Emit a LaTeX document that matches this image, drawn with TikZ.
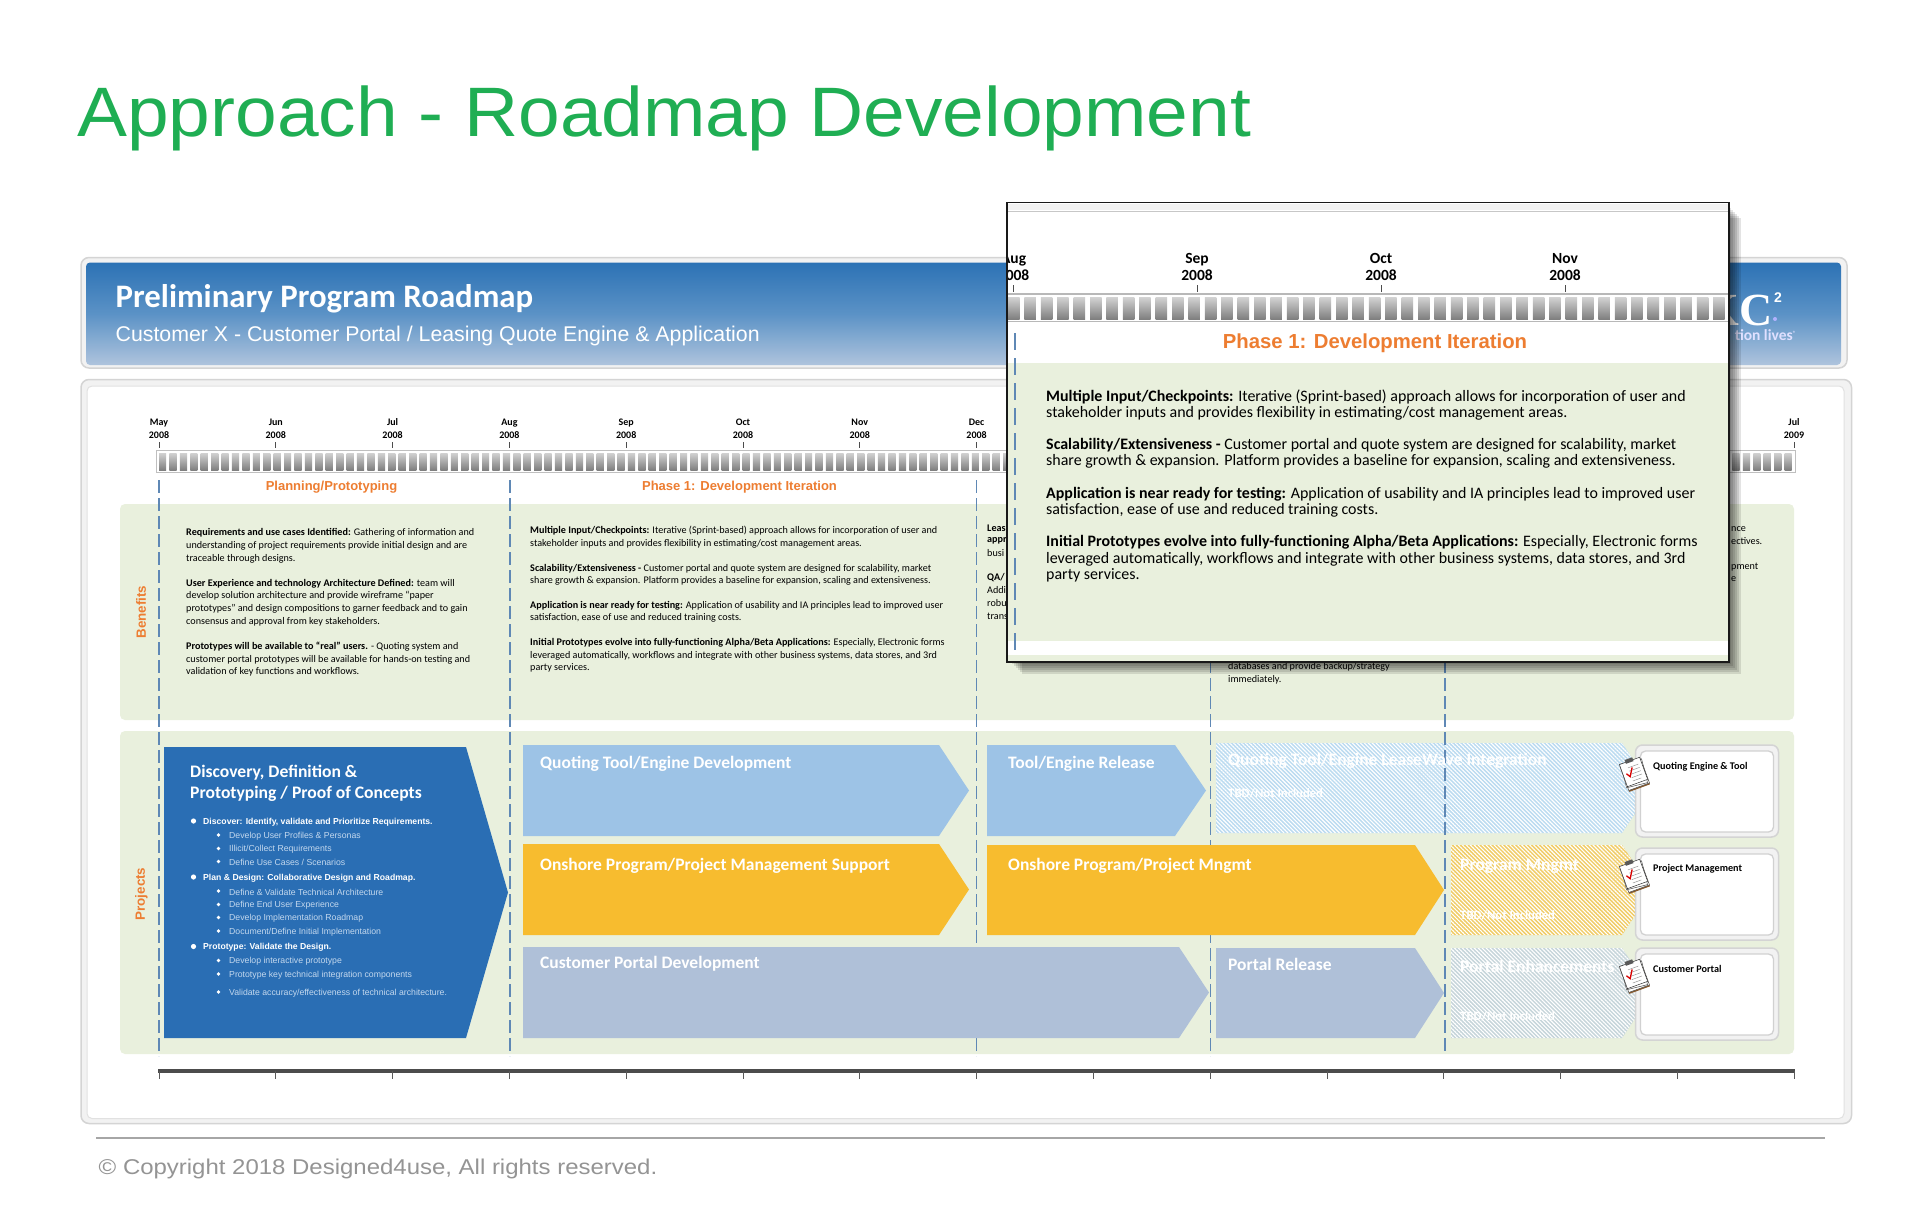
\documentclass[tikz,border=0pt]{standalone}
\usepackage{fontspec}
\setmainfont{Carlito}
\newfontfamily\arfont{Liberation Sans}
\newfontfamily\serfont{Liberation Serif}
\newfontfamily\titlefont[FakeStretch=1.07]{Liberation Sans}
\newfontfamily\copyfont[FakeStretch=1.12]{Liberation Sans}
\usetikzlibrary{patterns.meta,calc}
\definecolor{titlegreen}{HTML}{1FAE53}
\definecolor{panelgreen}{HTML}{E9F0DD}
\definecolor{phaseorange}{HTML}{ED7D31}
\definecolor{dashblue}{HTML}{5F88B5}
\definecolor{framegray}{HTML}{D4D4D4}
\definecolor{bigblue}{HTML}{2A6EB4}
\definecolor{toolblue}{HTML}{9DC3E6}
\definecolor{mgmtyellow}{HTML}{F7BC2F}
\definecolor{portalblue}{HTML}{AFC0D8}
\definecolor{hatchblue}{HTML}{BBDBF0}
\definecolor{hatchyellow}{HTML}{F0CC66}
\definecolor{hatchgray}{HTML}{C6D5DA}
\definecolor{subbullet}{HTML}{C3D8EE}
\definecolor{HeaderTop}{HTML}{2C72B5}
\definecolor{HeaderMid}{HTML}{5B92C6}
\definecolor{HeaderBot}{HTML}{AFC4DD}
\tikzset{
  x=1pt,y=-1pt,
  frameouter/.style={draw=framegray,line width=1.5pt,fill=white,rounded corners=8pt},
  frameinner/.style={draw=framegray!70,line width=1pt,fill=white,rounded corners=5pt},
  monthlabel/.style={inner sep=0pt,align=center,font=\fontsize{10}{13}\selectfont\bfseries},
  monthlabelbig/.style={inner sep=0pt,align=center,font=\fontsize{15.5}{16.5}\selectfont\bfseries},
  phaselabel/.style={inner sep=0pt,text=phaseorange,font=\arfont\fontsize{13}{14}\selectfont\bfseries},
  phaselabelbig/.style={inner sep=0pt,text=phaseorange,font=\arfont\fontsize{20.3}{22}\selectfont\bfseries},
  sidelabel/.style={inner sep=0pt,rotate=90,text=phaseorange,font=\arfont\fontsize{13.4}{14}\selectfont\bfseries},
  bodytext/.style={anchor=north west,inner sep=0pt,align=left,font=\fontsize{10.15}{12.6}\selectfont},
  bodytextb/.style={anchor=north west,inner sep=0pt,align=left,font=\fontsize{10.15}{12.4}\selectfont},
  fragtext/.style={anchor=west,inner sep=0pt,font=\fontsize{10.15}{12.6}\selectfont},
  poptext/.style={anchor=north west,inner sep=0pt,align=left,font=\fontsize{15.95}{16.4}\selectfont},
  arrowlabel/.style={anchor=west,inner sep=0pt,text=white,font=\fontsize{17.5}{18}\selectfont\bfseries},
  fadedlabel/.style={arrowlabel,text=white},
  tbdlabel/.style={anchor=west,inner sep=0pt,text=white,font=\fontsize{12.7}{14}\selectfont\bfseries},
  levelone/.style={anchor=west,inner sep=0pt,text=white,font=\arfont\fontsize{8.65}{10}\selectfont\bfseries},
  leveltwo/.style={anchor=west,inner sep=0pt,text=subbullet,font=\arfont\fontsize{8.7}{10}\selectfont},
  boxlabel/.style={anchor=west,inner sep=0pt,font=\fontsize{10.2}{12}\selectfont\bfseries},
  phasedash/.style={draw=dashblue,line width=1.3pt,dash pattern=on 13pt off 5pt},
  hatched/.style={pattern={Lines[distance=2.8pt,angle=-45,line width=1.1pt]},pattern color=white},
}
\newcommand{\arrowpath}[6]{(#1,#2) -- (#5,#2) -- (#6,{(#2+#4)/2}) -- (#5,#4) -- (#1,#4) -- cycle}
\newcommand{\blockarrow}[7]{\fill[#7] \arrowpath{#1}{#2}{#3}{#4}{#5}{#6};}
\newcommand{\hatcharrow}[7]{\fill[#7] \arrowpath{#1}{#2}{#3}{#4}{#5}{#6};
  \path[hatched] \arrowpath{#1}{#2}{#3}{#4}{#5}{#6};}
% clipboard icon
\newcommand{\clipicon}[2]{%
 \begin{scope}[shift={(#1,#2)},rotate=20]
  \fill[brown!70!black] (-11,-11) rectangle (11,15);
  \filldraw[fill=white,draw=black!70,line width=.5pt] (-11,-12) rectangle (11,13.5);
  \begin{scope}[rotate=-6]
   \filldraw[fill=white,draw=black!70,line width=.5pt] (-11,-13) rectangle (10.5,11.5);
  \end{scope}
  \filldraw[fill=white,draw=black!80,line width=.5pt] (-11,-14) rectangle (10.5,9.5);
  \fill[black!65] (-4.5,-16.5) rectangle (3.5,-12.5);
  \draw[black!40,line width=.5pt] (-4,-8)--(7,-8) (-4,-4.5)--(7,-4.5) (-4,-1)--(7,-1) (-4,2.5)--(7,2.5) (-4,6)--(5,6);
  \draw[red!85!black,line width=1.3pt] (-7.5,-3)--(-5,1)--(0,-7);
 \end{scope}}
\newcommand{\stripes}[6]{% x0,x1,period,width,ytop,ybot
 \pgfmathsetmacro{\mysecond}{#1+#3}
 \foreach \sx in {#1,\mysecond,...,#2}{
  \shade[top color=black!18,bottom color=black!50] (\sx,#5) rectangle ({\sx+#4},#6);}}
\begin{document}
\begin{tikzpicture}
\useasboundingbox (0,0) rectangle (1920,1220);
\fill[white] (0,0) rectangle (1920,1220);
% title
\node[anchor=base west,inner sep=0pt,text=titlegreen,font=\titlefont\fontsize{70}{72}\selectfont] (title) at (77,137) {Approach - Roadmap Development};
% header band
\draw[frameouter,fill=framegray!30] (81,257.5) rectangle (1847,368);
\shade[top color=HeaderTop,bottom color=HeaderBot,middle color=HeaderMid,rounded corners=4pt] (86,262.5) rectangle (1841,365) ;
\node[anchor=base west,inner sep=0pt,text=white,font=\fontsize{32.8}{34}\selectfont\bfseries] (hdA) at (115.5,307) {Preliminary Program Roadmap};
\node[anchor=base west,inner sep=0pt,text=white,font=\arfont\fontsize{21.3}{24}\selectfont] (hdB) at (115.5,341) {Customer X - Customer Portal / Leasing Quote Engine \& Application};
\node[anchor=base east,inner sep=0pt,text=white,font=\serfont\fontsize{46}{48}\selectfont\bfseries] (logoC) at (1773,325) {KC};
\node[anchor=base west,inner sep=0pt,text=white,font=\arfont\fontsize{14}{14}\selectfont\bfseries] (logoSq) at (1774,302) {2};
\fill[white!70!blue] (1775,319) circle (2pt);
\node[anchor=east,inner sep=0pt,text=white!88!blue,font=\fontsize{15.5}{15.5}\selectfont\bfseries] (logoT) at (1796.5,335) {tion lives\textsuperscript{\fontsize{6}{6}\selectfont®}};
% main frame
\draw[frameouter,fill=framegray!30] (81,379.5) rectangle (1851.5,1123.5);
\draw[frameinner] (87,386) rectangle (1844,1118.5);
% timeline
\foreach \nm/\lab/\yr/\mx in {a/May/2008/159,b/Jun/2008/275.8,c/Jul/2008/392.6,d/Aug/2008/509.4,e/Sep/2008/626.2,f/Oct/2008/743,g/Nov/2008/859.8,h/Dec/2008/976.6,i/Jul/2009/1794}{
  \node[monthlabel] (m\nm) at (\mx,429) {\lab\\\yr};
  \draw[black!70,line width=.8pt] (\mx,442) -- (\mx,448);
}
\draw[draw=black!25,fill=white,line width=1pt] (156,450.5) rectangle (1795,472);
\stripes{159}{1785}{10.42}{7.2}{453}{470}
\node[phaselabel] (phA) at (331.5,487) {Planning/Prototyping};
\node[phaselabel] (phB) at (739.5,487) {Phase 1: Development Iteration};
% green panels
\fill[panelgreen,rounded corners=5pt] (120,504) rectangle (1794,720);
\fill[panelgreen,rounded corners=5pt] (120,731) rectangle (1794,1054);
\node[sidelabel] at (141,612) (sideA) {Benefits};
\node[sidelabel] at (141.5,894) (sideB) {Projects};
% hatched arrow under dashes
\hatcharrow{1216}{743}{1652}{833}{1622}{1652}{hatchblue}
\coordinate (dA1) at (159,480); \coordinate (dA2) at (159,1056);
\coordinate (dB1) at (510,480); \coordinate (dB2) at (510,1056);
\coordinate (dC1) at (976.5,480); \coordinate (dC2) at (976.5,1056);
\coordinate (dD1) at (1210.5,480); \coordinate (dD2) at (1210.5,1056);
\coordinate (dE1) at (1445,480); \coordinate (dE2) at (1445,1052);
\foreach \d in {A,B,C,D,E}{\draw[phasedash] (d\d1) -- (d\d2);}
% benefits text
\node[bodytext] (bA1) at (186,528.5) {\textbf{Requirements and use cases Identified:} Gathering of information and\\understanding of project requirements provide initial design and are\\traceable through designs.};
\node[bodytext] (bA2) at (186,579) {\textbf{User Experience and technology Architecture Defined:} team will\\develop solution architecture and provide wireframe “paper\\prototypes” and design compositions to garner feedback and to gain\\consensus and approval from key stakeholders.};
\node[bodytext] (bA3) at (186,642) {\textbf{Prototypes will be available to “real” users.} - Quoting system and\\customer portal prototypes will be available for hands-on testing and\\validation of key functions and workflows.};
\node[bodytextb] (bB1) at (530,526) {\textbf{Multiple Input/Checkpoints:} Iterative (Sprint-based) approach allows for incorporation of user and\\stakeholder inputs and provides flexibility in estimating/cost management areas.};
\node[bodytextb] (bB2) at (530,564) {\textbf{Scalability/Extensiveness -} Customer portal and quote system are designed for scalability, market\\share growth \& expansion. Platform provides a baseline for expansion, scaling and extensiveness.};
\node[bodytextb] (bB3) at (530,601) {\textbf{Application is near ready for testing:} Application of usability and IA principles lead to improved user\\satisfaction, ease of use and reduced training costs.};
\node[bodytextb] (bB4) at (530,638.5) {\textbf{Initial Prototypes evolve into fully-functioning Alpha/Beta Applications:} Especially, Electronic forms\\leveraged automatically, workflows and integrate with other business systems, data stores, and 3rd\\party services.};
\node[fragtext] (fa) at (987,528) {\textbf{Leas}};
\node[fragtext] (fb) at (987,540.5) {\textbf{appr}};
\node[fragtext] (fc) at (987,553) {busi};
\node[fragtext] (fd) at (987,578) {\textbf{QA/}};
\node[fragtext] (fe) at (987,590.5) {Addi};
\node[fragtext] (ff) at (987,603) {robu};
\node[fragtext] (fg) at (987,616) {trans};
\node[bodytext] (fh) at (1228,662.5) {databases and provide backup/strategy\\immediately.};
\node[fragtext] (fi) at (1731,529) {nce};
\node[fragtext] (fj) at (1731,541) {ectives.};
\node[fragtext] (fk) at (1731,567) {pment};
\node[fragtext] (fl) at (1731,579) {e};
% big arrow
\blockarrow{164}{747}{508}{1038}{466}{508}{bigblue}
\node[anchor=north west,inner sep=0pt,align=left,text=white,font=\fontsize{17.6}{21.4}\selectfont\bfseries] (bigT) at (190,764.5) {Discovery, Definition \&\\Prototyping / Proof of Concepts};
\foreach \nm/\ty/\tx in {
 p1/822/{Discover: Identify, validate and Prioritize Requirements.},
 p2/878/{Plan \& Design: Collaborative Design and Roadmap.},
 p3/947.5/{Prototype: Validate the Design.}}{
 \fill[white] (193.5,\ty-1) circle (2.6pt);
 \node[levelone] (\nm) at (203,\ty) {\tx};
}
\foreach \nm/\ty/\tx in {
 s1/836/{Develop User Profiles \& Personas},
 s2/849.5/{Illicit/Collect Requirements},
 s3/862.5/{Define Use Cases / Scenarios},
 s4/892/{Define \& Validate Technical Architecture},
 s5/905.5/{Define End User Experience},
 s6/918.5/{Develop Implementation Roadmap},
 s7/932/{Document/Define Initial Implementation},
 s8/961.5/{Develop interactive prototype},
 s9/975/{Prototype key technical integration components},
 s10/993/{Validate accuracy/effectiveness of technical architecture.}}{
 \fill[white] (218.5,\ty-1) circle (1.9pt);
 \node[leveltwo] (\nm) at (229,\ty) {\tx};
}
% solid arrows
\blockarrow{523}{745}{969}{836}{939}{969}{toolblue}
\blockarrow{987}{745}{1206}{836}{1175}{1206}{toolblue}
\blockarrow{523}{844}{969}{935}{939}{969}{mgmtyellow}
\blockarrow{987}{845}{1444}{935}{1415}{1444}{mgmtyellow}
\blockarrow{523}{947}{1209}{1038}{1179}{1209}{portalblue}
\blockarrow{1216}{948}{1444}{1038}{1415}{1444}{portalblue}
\hatcharrow{1451}{845}{1652}{935}{1622}{1652}{hatchyellow}
\hatcharrow{1451}{948}{1652}{1038}{1622}{1652}{hatchgray}
\node[arrowlabel] (la) at (540,763.5) {Quoting Tool/Engine Development};
\node[arrowlabel] (lb) at (1008,763.5) {Tool/Engine Release};
\node[arrowlabel] (lc) at (540,865.5) {Onshore Program/Project Management Support};
\node[arrowlabel] (ld) at (1008,865.5) {Onshore Program/Project Mngmt};
\node[arrowlabel] (le) at (540,964) {Customer Portal Development};
\node[arrowlabel] (lf) at (1228,964) {Portal Release};
\node[fadedlabel] (lg) at (1228,761) {Quoting Tool/Engine LeaseWave Integration};
\node[tbdlabel] (lh) at (1228,793) {TBD/Not Included};
\node[fadedlabel] (li) at (1460,866) {Program Mngmt};
\node[tbdlabel] (lj) at (1460,915) {TBD/Not Included};
\node[fadedlabel] (lk) at (1460,966) {Portal Enhancements};
\node[tbdlabel] (ll) at (1460,1016) {TBD/Not Included};
% result boxes
\foreach \nm/\ya/\yb/\yc/\yd/\yt/\tx in {
 A/745/837/751/832/767/{Quoting Engine \& Tool},
 B/848/940/854/935/869/{Project Management},
 C/948/1040/954/1035/969/{Customer Portal}}{
 \draw[frameouter,fill=black!5,rounded corners=7pt] (1635.5,\ya) rectangle (1778.5,\yb);
 \draw[frameinner,draw=black!18,line width=1.3pt,rounded corners=5pt] (1640.5,\yc) rectangle (1773.5,\yd);
 \node[boxlabel] (box\nm) at (1653,\yt) {\tx};
 \clipicon{1634.5}{\yt+7}
}
% bottom axis
\draw[black!70,line width=3.5pt] (158,1071) -- (1795,1071);
\foreach \i in {0,...,14}{\draw[black!65,line width=1pt] ({159+116.8*\i},1071) -- ({159+116.8*\i},1079);}
% popup shadow
\foreach \o in {2,4,...,12}{\fill[black,opacity=.11] (1010+\o,206+\o) rectangle (1729+\o,662+\o);}
% popup
\fill[white] (1007,202) rectangle (1729,662);
\begin{scope}
\clip (1007,202) rectangle (1729,662);
\fill[black!5] (1007,204) rectangle (1729,210);
\draw[black!22,line width=1pt] (1007,211) -- (1729,211);
\foreach \nm/\lab/\mx in {a/Aug/1013.6,b/Sep/1197,c/Oct/1381,d/Nov/1565}{
 \node[monthlabelbig] (pm\nm) at (\mx,267) {\lab\\2008};
 \draw[black!70,line width=1pt] (\mx,285) -- (\mx,292);
}
\draw[black!28,line width=1.2pt] (1007,294) -- (1729,294);
\draw[black!28,line width=1.5pt] (1007,321.5) -- (1729,321.5);
\stripes{1008}{1730}{16.4}{11.5}{297.5}{319}
\fill[panelgreen] (1007,363) rectangle (1729,641);
\fill[panelgreen] (1007,655) rectangle (1729,662);
\coordinate (pd1) at (1015,333); \coordinate (pd2) at (1015,652);
\draw[phasedash,line width=1.6pt,dash pattern=on 17pt off 8pt] (pd1) -- (pd2);
\node[phaselabelbig] (pph) at (1375,343.5) {Phase 1: Development Iteration};
\node[poptext] (pt1) at (1046,389.5) {\textbf{Multiple Input/Checkpoints:} Iterative (Sprint-based) approach allows for incorporation of user and\\stakeholder inputs and provides flexibility in estimating/cost management areas.};
\node[poptext] (pt2) at (1046,438) {\textbf{Scalability/Extensiveness -} Customer portal and quote system are designed for scalability, market\\share growth \& expansion. Platform provides a baseline for expansion, scaling and extensiveness.};
\node[poptext] (pt3) at (1046,487) {\textbf{Application is near ready for testing:} Application of usability and IA principles lead to improved user\\satisfaction, ease of use and reduced training costs.};
\node[poptext] (pt4) at (1046,535.5) {\textbf{Initial Prototypes evolve into fully-functioning Alpha/Beta Applications:} Especially, Electronic forms\\leveraged automatically, workflows and integrate with other business systems, data stores, and 3rd\\party services.};
\end{scope}
\draw[black!90,line width=1.4pt] (1007,202.5) rectangle (1729,662);
% footer
\draw[black!35,line width=1.6pt] (96,1138) -- (1825,1138);
\node[anchor=base west,inner sep=0pt,text=black!42,font=\copyfont\fontsize{21.4}{24}\selectfont] (copy) at (98.5,1174.5) {© Copyright 2018 Designed4use, All rights reserved.};
\end{tikzpicture}
\end{document}
